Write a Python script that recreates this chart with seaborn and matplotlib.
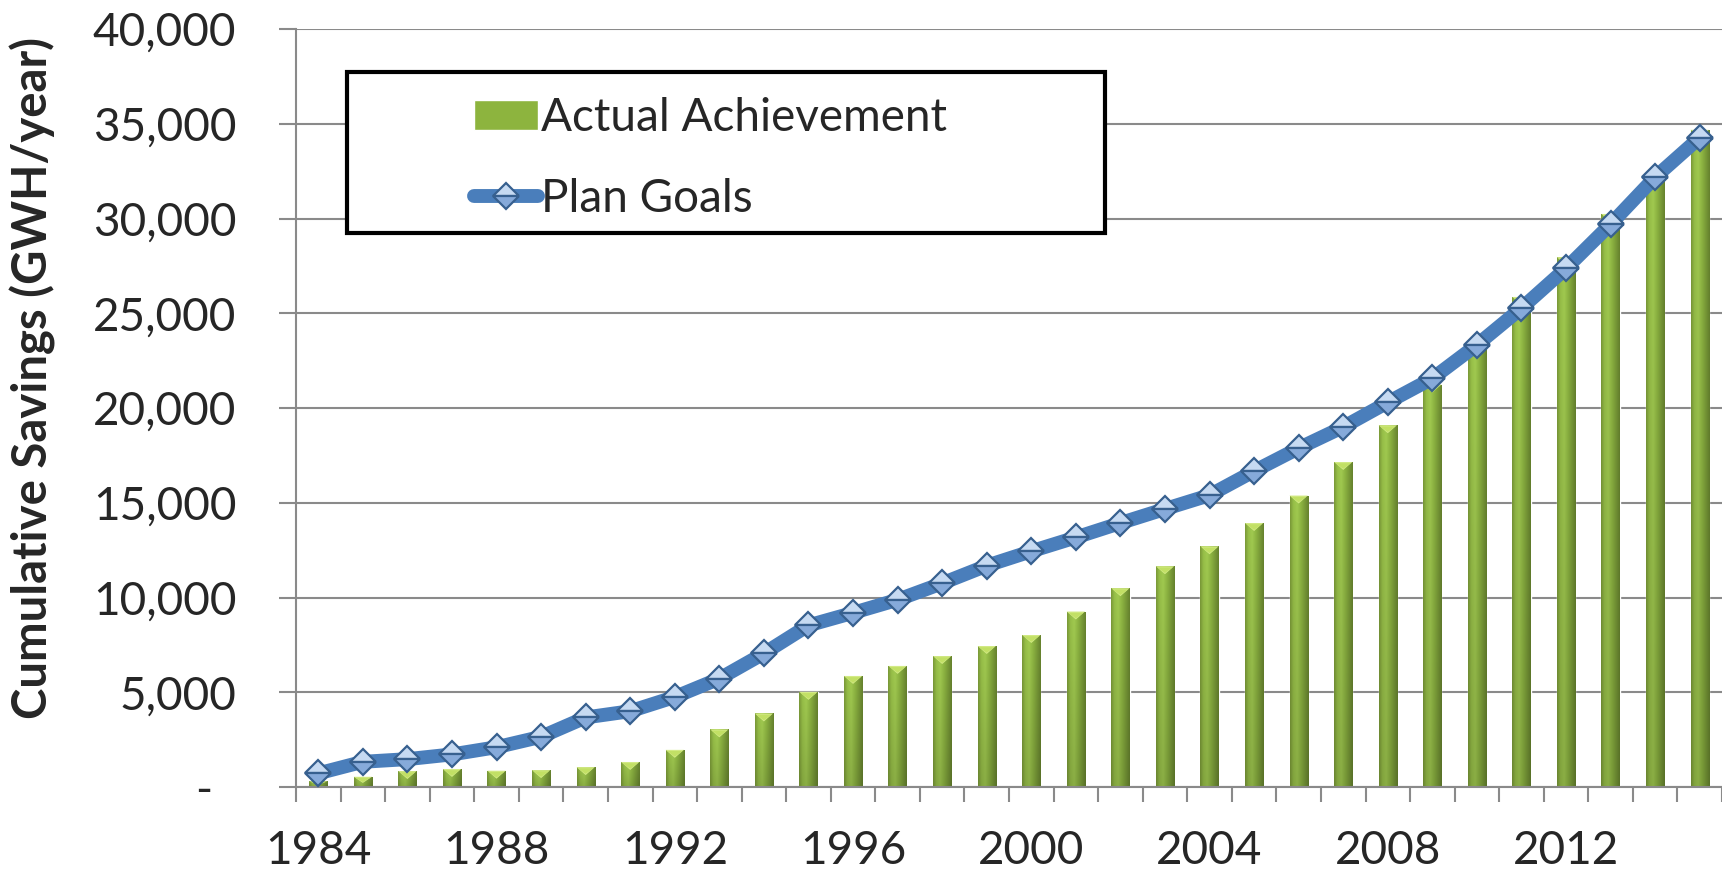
import numpy as np
import matplotlib
matplotlib.use("Agg")
import matplotlib.pyplot as plt
from matplotlib.ticker import FixedLocator, FuncFormatter
from matplotlib.patches import Rectangle
import seaborn as sns

# ---- data -------------------------------------------------------------
years = [str(y) for y in range(1984, 2016)]
actual_achievement = [300, 540, 840, 950, 860, 890, 1050, 1320, 1960, 3040,
                      3880, 5020, 5860, 6390, 6910, 7440, 8020, 9260, 10490,
                      11650, 12700, 13930, 15380, 17150, 19090, 21240, 23100,
                      25860, 27960, 30240, 32390, 34680]
plan_goals = [720, 1330, 1470, 1720, 2100, 2650, 3670, 4000, 4750, 5720,
              7050, 8530, 9190, 9880, 10750, 11680, 12440, 13170, 13930,
              14670, 15400, 16670, 17880, 19000, 20300, 21560, 23330, 25270,
              27370, 29700, 32180, 34270]
labelled_years = ["1984", "1988", "1992", "1996", "2000", "2004", "2008", "2012"]
y_ticks = [0, 5000, 10000, 15000, 20000, 25000, 30000, 35000, 40000]

# ---- style ------------------------------------------------------------
sns.set_style("white")
plt.rcParams["font.family"] = ["Lato", "DejaVu Sans"]

GRID = "#8a8a8a"
BLUE = "#4A7EBB"
FS = 33

fig = plt.figure(figsize=(17.22, 8.77), dpi=100)
ax = fig.add_axes([296 / 1722, 90 / 877, 1 - 296 / 1722, (787 - 29) / 877])

# bars
sns.barplot(x=years, y=actual_achievement, order=years, width=0.41,
            color="#8DB43E", saturation=1, ax=ax, label="Actual Achievement",
            zorder=2)

bar_patches = list(ax.patches)

# line with diamond markers
sns.pointplot(x=years, y=plan_goals, order=years, ax=ax, color=BLUE,
              markers="D", linestyles="-", errorbar=None,
              label="Plan Goals", linewidth=10, markersize=13.5)
plan_line = ax.lines[-1]
plan_line.set_zorder(5)
plan_line.set_markerfacecolor("#C6DAF2")
plan_line.set_markerfacecoloralt("#86AADA")
plan_line.set_fillstyle("top")
plan_line.set_markeredgecolor("#37608F")
plan_line.set_markeredgewidth(1.6)
plan_line.set_solid_capstyle("round")
plan_line.set_solid_joinstyle("round")

# shaded fill for each bar plus a light bevel at its top
profile_pts = [0.0, 0.18, 0.38, 0.6, 1.0]
profile_cols = np.array([[0x7A, 0x99, 0x38], [0x97, 0xBF, 0x48],
                         [0xA1, 0xCA, 0x50], [0x8C, 0xB3, 0x41],
                         [0x66, 0x82, 0x2E]]) / 255.0
nx, ny = 64, 64
xs = np.linspace(0, 1, nx)
horiz = np.stack([np.interp(xs, profile_pts, profile_cols[:, c]) for c in range(3)], axis=-1)
vert = np.linspace(1.0, 0.86, ny)[:, None, None]
shade = np.clip(horiz[None, :, :] * vert, 0, 1)

for p in bar_patches:
    x0, w, h = p.get_x(), p.get_width(), p.get_height()
    if h <= 0:
        continue
    im = ax.imshow(shade, extent=[x0, x0 + w, 0, h], aspect="auto",
                   origin="upper", zorder=2.5, interpolation="bilinear")
    im.set_clip_path(p)
    d = min(420.0, 0.6 * h)
    ax.fill([x0, x0 + w, x0 + w / 2], [h, h, h - d], color="#D3EA86",
            zorder=2.6, lw=0)
    ax.fill([x0 + w * 0.08, x0 + w * 0.92, x0 + w / 2],
            [h - d * 0.15, h - d * 0.15, h - d * 0.85], color="#C2E065",
            zorder=2.7, lw=0)

# ---- axes -------------------------------------------------------------
ax.set_xlim(-0.5, 31.5)
ax.set_ylim(0, 40000)
ax.set_aspect("auto")

ax.yaxis.set_major_locator(FixedLocator(y_ticks))
ax.yaxis.set_major_formatter(FuncFormatter(
    lambda v, pos: "-  " if v == 0 else f"{v:,.0f}"))
ax.grid(axis="y", color=GRID, linewidth=1.5, zorder=0)
ax.set_axisbelow(True)

label_pos = [years.index(y) for y in labelled_years]
ax.xaxis.set_major_locator(FixedLocator(label_pos))
ax.set_xticklabels(labelled_years)
ax.xaxis.set_minor_locator(FixedLocator(np.arange(-0.5, 32, 1.0)))

ax.tick_params(axis="x", which="major", length=0, pad=31, labelsize=FS)
ax.tick_params(axis="x", which="minor", length=11, width=1.5, color=GRID,
               direction="out", bottom=True)
ax.tick_params(axis="y", which="major", length=12, width=1.5, color=GRID,
               direction="out", left=True, pad=31, labelsize=FS)

for side in ("top", "right"):
    ax.spines[side].set_visible(False)
for side in ("left", "bottom"):
    ax.spines[side].set_color(GRID)
    ax.spines[side].set_linewidth(1.5)
    ax.spines[side].set_zorder(3)

ax.set_xlabel("")
ax.set_ylabel("Cumulative Savings (GWH/year)", fontsize=34, fontweight="bold")
ax.yaxis.set_label_coords(-0.168, 0.54)

# ---- legend -----------------------------------------------------------
handles, labels = ax.get_legend_handles_labels()
order = [labels.index("Actual Achievement"), labels.index("Plan Goals")]
leg = ax.legend([handles[i] for i in order], [labels[i] for i in order],
                loc="upper left", frameon=False, fontsize=FS,
                bbox_to_anchor=(465 / 1722, 1 - 88 / 877),
                bbox_transform=fig.transFigure, borderaxespad=0,
                handlelength=1.4, handleheight=0.65, handletextpad=0.05,
                labelspacing=0.85, borderpad=0.2)
leg.set_zorder(10)
frame = Rectangle((347 / 1722, 1 - 233 / 877), (1105 - 347) / 1722,
                  (233 - 72) / 877, transform=fig.transFigure, fill=True,
                  facecolor="white", edgecolor="black", linewidth=3, zorder=9)
ax.add_artist(frame)
frame.set_clip_on(False)

fig.savefig("out.png", dpi=100)
